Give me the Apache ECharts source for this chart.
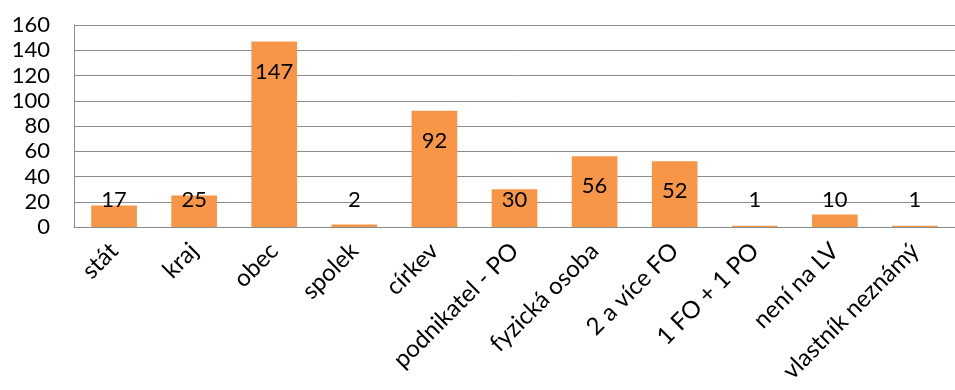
<!DOCTYPE html>
<html>
<head>
<meta charset="utf-8">
<script src="https://cdn.jsdelivr.net/npm/echarts@6/dist/echarts.min.js"></script>
<style>
  html, body { margin: 0; padding: 0; background: #fff; }
  #chart { width: 955px; height: 390px; }
</style>
</head>
<body>
<div id="chart"></div>
<script>
const categories = ['stát', 'kraj', 'obec', 'spolek', 'církev', 'podnikatel - PO',
  'fyzická osoba', '2 a více FO', '1 FO + 1 PO', 'není na LV', 'vlastník neznámý'];
const counts = [17, 25, 147, 2, 92, 30, 56, 52, 1, 10, 1];
const yTicks = { min: 0, max: 160, interval: 20 };

const font = 'Lato, "Open Sans", sans-serif';
const chart = echarts.init(document.getElementById('chart'));

chart.setOption({
  animation: false,
  grid: { left: 74, right: -10, top: 25, bottom: 163, containLabel: false },
  xAxis: {
    type: 'category',
    data: categories,
    axisLine: { lineStyle: { color: '#8c8c8c', width: 1 } },
    axisTick: { show: false },
    axisLabel: {
      rotate: 45,
      interval: 0,
      margin: 20,
      color: '#000',
      fontFamily: font,
      fontSize: 24
    }
  },
  yAxis: {
    type: 'value',
    min: yTicks.min,
    max: yTicks.max,
    interval: yTicks.interval,
    axisLine: { show: true, lineStyle: { color: '#8c8c8c', width: 1 } },
    axisTick: { show: false },
    splitLine: { lineStyle: { color: '#8c8c8c', width: 1 } },
    axisLabel: {
      color: '#000',
      fontFamily: font,
      fontSize: 22,
      margin: 24
    }
  },
  series: [{
    type: 'bar',
    data: counts,
    barCategoryGap: '43%',
    itemStyle: { color: '#F79646' },
    label: {
      show: true,
      position: 'insideTop',
      color: '#000',
      fontFamily: font,
      fontSize: 22
    },
    labelLayout: function (params) {
      const r = params.rect;
      const base = r.y + r.height;
      return {
        x: r.x + r.width / 2,
        y: Math.min(r.y + 30, base - 27),
        align: 'center',
        verticalAlign: 'middle'
      };
    }
  }]
});
</script>
</body>
</html>
